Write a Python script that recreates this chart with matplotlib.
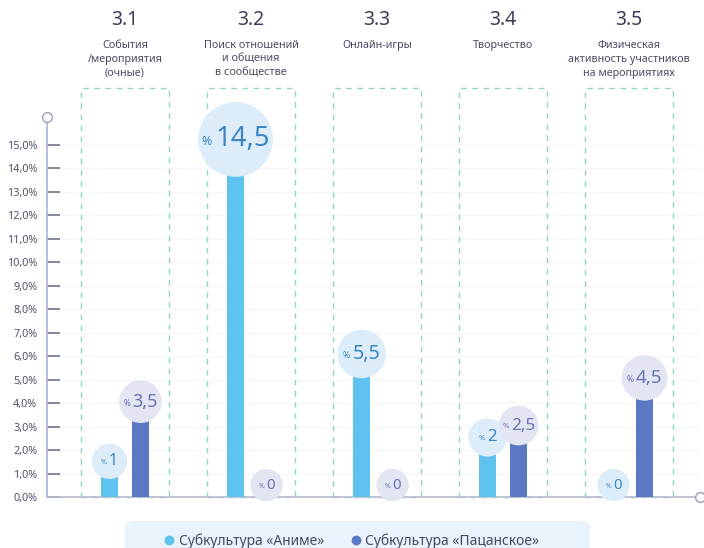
import matplotlib
matplotlib.use("Agg")
import matplotlib.pyplot as plt
from matplotlib.lines import Line2D
from matplotlib.patches import FancyBboxPatch, Rectangle

plt.rcParams['font.family'] = ['Noto Sans', 'DejaVu Sans']

codes = ["3.1", "3.2", "3.3", "3.4", "3.5"]
categories = ["События\n/мероприятия\n(очные)",
              "Поиск отношений\nи общения\nв сообществе",
              "Онлайн-игры",
              "Творчество",
              "Физическая\nактивность участников\nна мероприятиях"]
series_names = ["Субкультура «Аниме»", "Субкультура «Пацанское»"]
anime = [1, 14.5, 5.5, 2, 0]
pacan = [3.5, 0, 0, 2.5, 4.5]
yticks = [i for i in range(0, 16)]

c_anime = "#5ec3ee"
c_pacan = "#5a78c4"
c_anime_txt = "#3d86c6"
c_pacan_txt = "#6c73b6"
c_anime_bg = "#dcedf9"
c_pacan_bg = "#e3e5f3"
c_box = "#92d6c2"

W, H = 704, 548
fig = plt.figure(figsize=(W / 100, H / 100), dpi=100)
ax = fig.add_axes([47 / W, 51 / H, 653 / W, 422.5 / H])
ax.set_xlim(-0.619, 4.563)
ax.set_ylim(0, 18)

bw = 0.135
off = 0.123
xs = list(range(len(categories)))

for i in xs:
    ax.add_patch(Rectangle((i - 0.35, 0), 0.70, 17.43, fill=False,
                           edgecolor=c_box, lw=1.0, ls=(0, (4, 4)),
                           zorder=1, clip_on=False))

ax.bar([x - off for x in xs], anime, width=bw, color=c_anime, zorder=3)
ax.bar([x + off for x in xs], pacan, width=bw, color=c_pacan, zorder=3)

def fmt(v):
    return ("%g" % v).replace(".", ",")

def label(x, v, txtc, bgc):
    fs = 10.8 + 0.62 * v
    yoff_px = 12 + (fs - 11) * 0.6
    y = v + yoff_px / 23.47
    d = 24 + (fs - 11) * 3.4
    ax.scatter([x], [y], s=d ** 2, color=bgc, zorder=4, edgecolors='none', clip_on=False)
    s = fmt(v)
    numw = sum(0.28 if ch == ',' else 0.57 for ch in s) * fs
    pw = 0.85 * 0.45 * fs
    gap = 0.12 * fs
    total = numw + pw + gap
    anchor = -total / 2 + pw + gap / 2
    ax.annotate(s, (x, y), xytext=(anchor + gap / 2, 0), textcoords='offset points',
                ha='left', va='center', fontsize=fs, color=txtc, zorder=5)
    ax.annotate("%", (x, y), xytext=(anchor - gap / 2, -fs * 0.08),
                textcoords='offset points', ha='right', va='center',
                fontsize=fs * 0.45, color=txtc, zorder=5)

for i in xs:
    label(i - off, anime[i], c_anime_txt, c_anime_bg)
    label(i + off, pacan[i], c_pacan_txt, c_pacan_bg)

# axes styling
for s in ['top', 'right']:
    ax.spines[s].set_visible(False)
ax.spines['left'].set_color("#aab1de")
ax.spines['left'].set_bounds(0, 16.19)
ax.spines['bottom'].set_color("#b9bccb")
ax.spines['left'].set_linewidth(1.2)
ax.spines['bottom'].set_linewidth(1.2)
ax.plot([-0.619], [16.19], marker='o', ms=7, mfc='white', mec="#9aa0b8", mew=1, clip_on=False, zorder=6)
ax.plot([4.563], [0], marker='o', ms=7, mfc='white', mec="#9aa0b8", mew=1, clip_on=False, zorder=6)

ax.set_yticks(yticks)
ax.set_yticklabels([("%.1f%%" % t).replace(".", ",") for t in yticks])
ax.tick_params(axis='y', direction='in', length=9.5, width=1.2, color="#70758f",
               labelsize=7.8, labelcolor="#50546a", pad=7)
ax.set_xticks([])
for t in yticks[1:]:
    ax.axhline(t, color="#f5f6fa", lw=0.8, zorder=0)

# headers
for i in xs:
    xf = (47 + (i + 0.619) * 126) / W
    fig.text(xf, 1 - 20 / H, codes[i], ha='center', va='center', fontsize=14,
             fontweight='semibold', color="#3b3e56")
    fig.text(xf, 1 - 40 / H, categories[i], ha='center', va='top', fontsize=7.8,
             color="#4a4d66", linespacing=1.35)

# legend background
fig.patches.append(FancyBboxPatch((125 / W, -20 / H), 465 / W, 47 / H,
                                  boxstyle="round,pad=0,rounding_size=0.012",
                                  transform=fig.transFigure, facecolor="#e9f3fb",
                                  edgecolor="none", zorder=0))
handles = [Line2D([], [], ls='none', marker='o', ms=6, color=c_anime),
           Line2D([], [], ls='none', marker='o', ms=6, color=c_pacan)]
leg = fig.legend(handles, series_names, loc='center', bbox_to_anchor=(350 / W, 1 - 541 / H),
                 ncol=2, frameon=False, fontsize=10, columnspacing=1.7, handletextpad=0.1,
                 handlelength=1.2, labelcolor="#474b64")

fig.savefig("out.png", dpi=100)
